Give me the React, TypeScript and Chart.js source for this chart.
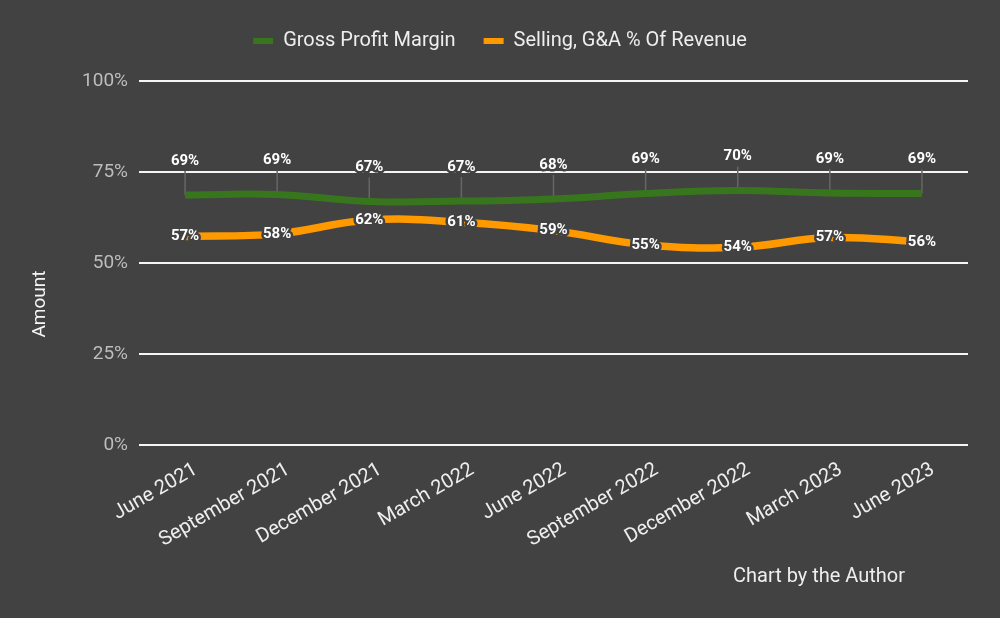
import React, { useEffect, useRef } from 'react';
import { Chart, registerables } from 'chart.js';

Chart.register(...registerables);

const BG = '#424242';
const GREEN = '#38761d';
const ORANGE = '#ff9900';

const categories = [
  'June 2021',
  'September 2021',
  'December 2021',
  'March 2022',
  'June 2022',
  'September 2022',
  'December 2022',
  'March 2023',
  'June 2023',
];
const grossProfitMargin = [68.7, 68.8, 66.9, 67.0, 67.6, 69.1, 69.9, 69.2, 69.1];
const sgaOfRevenue = [57.3, 58.0, 61.8, 61.2, 58.9, 55.0, 54.3, 57.0, 55.8];
const yTickValues = [0, 25, 50, 75, 100];

const pct = (v: number) => `${Math.round(v)}%`;

function haloText(ctx: CanvasRenderingContext2D, text: string, x: number, y: number) {
  ctx.lineJoin = 'round';
  ctx.strokeStyle = BG;
  ctx.lineWidth = 5;
  ctx.strokeText(text, x, y);
  ctx.fillStyle = '#ffffff';
  ctx.fillText(text, x, y);
}

// Adds breathing room between the legend and the plot area, and centres
// the legend on the full canvas width.
const legendSpacing = {
  id: 'legendSpacing',
  beforeInit(chart: any) {
    const legend = chart.legend;
    if (!legend) return;
    const fit = legend.fit;
    legend.fit = function () {
      fit.call(this);
      this.height += 20;
    };
  },
  afterLayout(chart: any) {
    const legend = chart.legend;
    if (!legend) return;
    legend.left += 16;
    legend.right += 16;
  },
};

const decorations = {
  id: 'decorations',
  beforeDraw(chart: any) {
    const { ctx, width, height } = chart;
    ctx.save();
    ctx.fillStyle = BG;
    ctx.fillRect(0, 0, width, height);
    ctx.restore();
  },
  beforeDatasetsDraw(chart: any) {
    const { ctx } = chart;
    const meta = chart.getDatasetMeta(0);
    ctx.save();
    ctx.strokeStyle = '#666666';
    ctx.lineWidth = 1.5;
    meta.data.forEach((p: any) => {
      ctx.beginPath();
      ctx.moveTo(p.x, p.y - 24);
      ctx.lineTo(p.x, p.y);
      ctx.stroke();
    });
    ctx.restore();
  },
  afterDatasetsDraw(chart: any) {
    const { ctx } = chart;
    ctx.save();
    ctx.font = 'bold 15px Roboto';
    ctx.textAlign = 'center';
    ctx.textBaseline = 'middle';
    chart.getDatasetMeta(0).data.forEach((p: any, i: number) => {
      haloText(ctx, pct(grossProfitMargin[i]), p.x, p.y - 34);
    });
    chart.getDatasetMeta(1).data.forEach((p: any, i: number) => {
      haloText(ctx, pct(sgaOfRevenue[i]), p.x, p.y);
    });
    ctx.restore();
  },
  afterDraw(chart: any) {
    const { ctx } = chart;
    ctx.save();
    ctx.fillStyle = '#f5f5f5';
    ctx.font = '19px Roboto';
    ctx.textAlign = 'center';
    ctx.textBaseline = 'middle';
    ctx.translate(40, 304);
    ctx.rotate(-Math.PI / 2);
    ctx.fillText('Amount', 0, 0);
    ctx.restore();

    ctx.save();
    ctx.fillStyle = '#eeeeee';
    ctx.font = '20px Roboto';
    ctx.textAlign = 'center';
    ctx.textBaseline = 'middle';
    ctx.fillText('Chart by the Author', 819, 577);
    ctx.restore();
  },
};

export default function App() {
  const canvasRef = useRef<HTMLCanvasElement | null>(null);

  useEffect(() => {
    const canvas = canvasRef.current;
    if (!canvas) return;
    const chart = new Chart(canvas, {
      type: 'line',
      data: {
        labels: categories,
        datasets: [
          {
            label: 'Gross Profit Margin',
            data: grossProfitMargin,
            borderColor: GREEN,
            backgroundColor: GREEN,
            borderWidth: 7,
            pointRadius: 0,
            tension: 0.4,
          },
          {
            label: 'Selling, G&A % Of Revenue',
            data: sgaOfRevenue,
            borderColor: ORANGE,
            backgroundColor: ORANGE,
            borderWidth: 7.5,
            pointRadius: 0,
            tension: 0.4,
          },
        ],
      },
      options: {
        responsive: false,
        animation: false,
        devicePixelRatio: 1,
        layout: { padding: { top: 3, right: 32, bottom: 0, left: 0 } },
        plugins: {
          tooltip: { enabled: false },
          legend: {
            position: 'top',
            labels: {
              color: '#eeeeee',
              font: { family: 'Roboto', size: 20 },
              boxWidth: 20,
              boxHeight: 6,
              padding: 28,
              generateLabels: (c: any) =>
                Chart.defaults.plugins.legend.labels
                  .generateLabels(c)
                  .map((l: any) => ({ ...l, lineWidth: 0, strokeStyle: 'transparent' })),
            },
          },
        },
        scales: {
          x: {
            offset: true,
            grid: { display: false, drawTicks: false },
            border: { display: false },
            ticks: {
              color: '#eeeeee',
              font: { family: 'Roboto', size: 20 },
              minRotation: 30,
              maxRotation: 30,
              autoSkip: false,
              padding: 13,
              labelOffset: 11,
            },
            afterFit: (s: any) => {
              s.height = 173;
            },
          },
          y: {
            min: 0,
            max: 100,
            grid: { color: '#f5f5f5', lineWidth: 2, drawTicks: false },
            border: { display: false },
            ticks: {
              color: '#bdbdbd',
              font: { family: 'Roboto', size: 19 },
              padding: 11,
              callback: (v: any) => `${v}%`,
            },
            afterBuildTicks: (s: any) => {
              s.ticks = yTickValues.map((v) => ({ value: v }));
            },
            afterFit: (s: any) => {
              s.width = 139;
            },
          },
        },
      },
      plugins: [legendSpacing, decorations],
    });
    return () => chart.destroy();
  }, []);

  return (
    <div style={{ position: 'fixed', left: 0, top: 0, width: 1000, height: 618, background: BG }}>
      <canvas ref={canvasRef} width={1000} height={618} />
    </div>
  );
}
